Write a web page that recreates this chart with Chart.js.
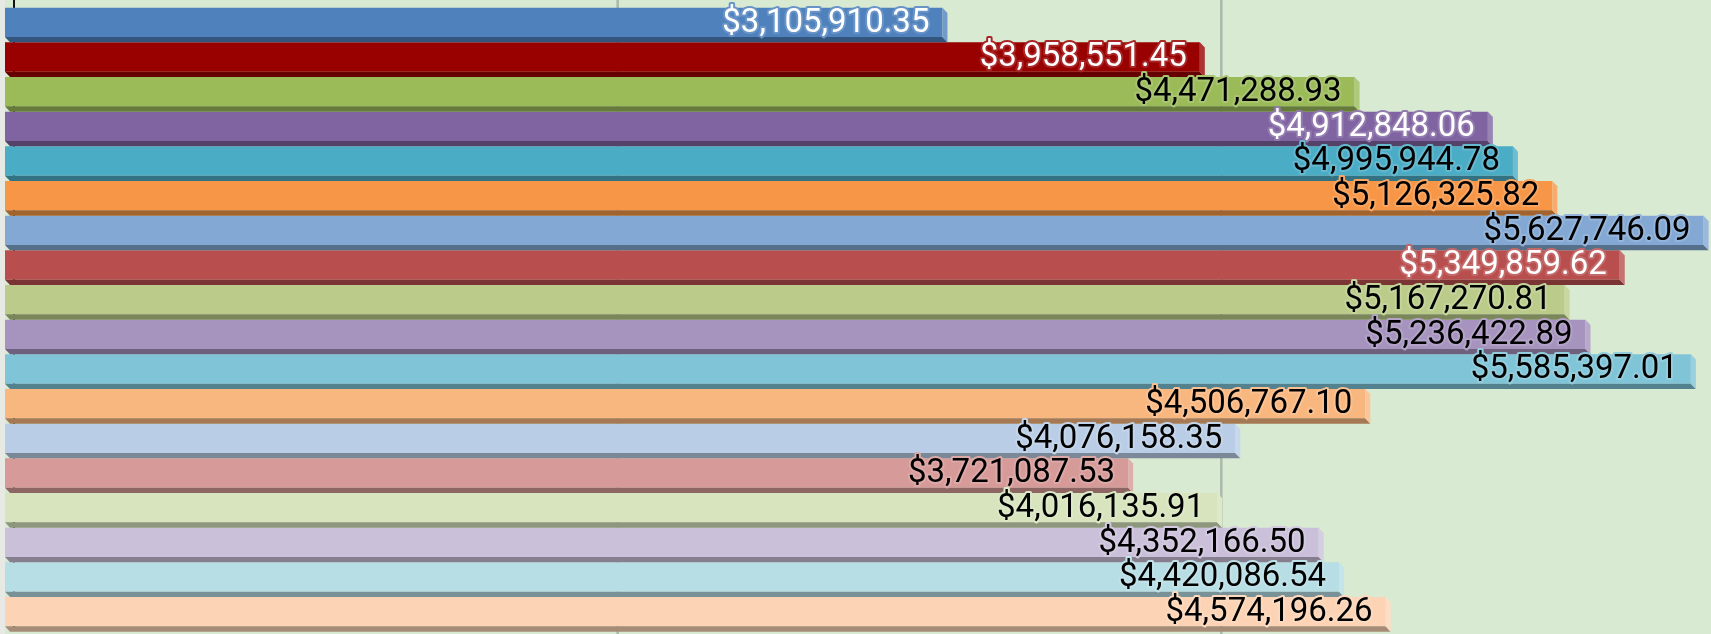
<!DOCTYPE html>
<html>
<head>
<meta charset="utf-8">
<script src="https://cdn.jsdelivr.net/npm/chart.js@4/dist/chart.umd.min.js"></script>
<style>
  html, body { margin: 0; padding: 0; overflow: hidden; background: #d9ead3; }
  #wrap { width: 1816px; height: 634px; }
</style>
</head>
<body>
<div id="wrap"><canvas id="revChart" width="1816" height="634"></canvas></div>
<script>
// --- Data ---
const categories = ['Row 1', 'Row 2', 'Row 3', 'Row 4', 'Row 5', 'Row 6', 'Row 7', 'Row 8', 'Row 9',
    'Row 10', 'Row 11', 'Row 12', 'Row 13', 'Row 14', 'Row 15', 'Row 16', 'Row 17', 'Row 18'];
const values = [3105910.35, 3958551.45, 4471288.93, 4912848.06, 4995944.78, 5126325.82,
    5627746.09, 5349859.62, 5167270.81, 5236422.89, 5585397.01, 4506767.10,
    4076158.35, 3721087.53, 4016135.91, 4352166.50, 4420086.54, 4574196.26];
const gridTicks = [2000000, 4000000];

// --- Styles ---
const barColors = ['#4f81bd', '#990000', '#9bbb59', '#8064a2', '#4bacc6', '#f79646',
    '#83a8d3', '#b84f4e', '#bbcc8a', '#a693be', '#80c4d7', '#f9b780',
    '#b9cee6', '#d69a98', '#d7e4bd', '#cbc0da', '#b7dde5', '#fcd4b5'];
const whiteText = [0, 1, 3, 7];
const DEPTH_X = 5;

function hexRgb(hex) {
    const n = parseInt(hex.slice(1), 16);
    return [(n >> 16) & 255, (n >> 8) & 255, n & 255];
}
function shade(hex, f) {
    const c = hexRgb(hex).map(v => Math.round(v * f));
    return `rgb(${c[0]},${c[1]},${c[2]})`;
}
function tint(hex, f) {
    const c = hexRgb(hex).map(v => Math.round(v + (255 - v) * f));
    return `rgb(${c[0]},${c[1]},${c[2]})`;
}
function money(v) {
    return '$' + v.toLocaleString('en-US', { minimumFractionDigits: 2, maximumFractionDigits: 2 });
}

// background, back-plane grid and 3D faces
const bar3d = {
    id: 'bar3d',
    beforeDraw(chart) {
        const { ctx, chartArea } = chart;
        ctx.save();
        ctx.fillStyle = '#d9ead3';
        ctx.fillRect(0, 0, chart.width, chart.height);
        ctx.fillStyle = '#e6e9e4';
        ctx.fillRect(0, 0, chartArea.left, chart.height);
        ctx.restore();
    },
    beforeDatasetsDraw(chart) {
        const { ctx, chartArea, scales } = chart;
        const back = 9;
        ctx.save();
        ctx.strokeStyle = '#adb8a9';
        ctx.lineWidth = 2.5;
        gridTicks.forEach(t => {
            const x = scales.x.getPixelForValue(t) + back;
            ctx.beginPath();
            ctx.moveTo(x, 0);
            ctx.lineTo(x, chart.height);
            ctx.stroke();
        });
        ctx.strokeStyle = '#111';
        ctx.lineWidth = 2;
        const ax = scales.x.getPixelForValue(0) + back;
        ctx.beginPath();
        ctx.moveTo(ax, 0);
        ctx.lineTo(ax, chartArea.bottom);
        ctx.stroke();
        ctx.restore();
    },
    afterDatasetsDraw(chart) {
        const { ctx, scales } = chart;
        const meta = chart.getDatasetMeta(0);
        const slot = scales.y.getPixelForValue(1) - scales.y.getPixelForValue(0);
        ctx.save();
        meta.data.forEach((bar, i) => {
            const p = bar.getProps(['x', 'y', 'base', 'height'], true);
            const top = p.y - p.height / 2, bottom = p.y + p.height / 2;
            const dy = slot - p.height;
            const col = barColors[i];
            // bottom face
            ctx.fillStyle = shade(col, 0.66);
            ctx.beginPath();
            ctx.moveTo(p.base, bottom);
            ctx.lineTo(p.x, bottom);
            ctx.lineTo(p.x + DEPTH_X, bottom + dy);
            ctx.lineTo(p.base + DEPTH_X, bottom + dy);
            ctx.closePath();
            ctx.fill();
            // right face
            ctx.fillStyle = tint(col, 0.2);
            ctx.beginPath();
            ctx.moveTo(p.x, top);
            ctx.lineTo(p.x + DEPTH_X, top + dy);
            ctx.lineTo(p.x + DEPTH_X, bottom + dy);
            ctx.lineTo(p.x, bottom);
            ctx.closePath();
            ctx.fill();
        });
        // value labels
        ctx.font = '33px Roboto';
        ctx.textAlign = 'right';
        ctx.textBaseline = 'middle';
        ctx.lineJoin = 'round';
        meta.data.forEach((bar, i) => {
            const p = bar.getProps(['x', 'y'], true);
            const txt = money(values[i]);
            const tx = p.x - 13, ty = p.y + 1;
            ctx.strokeStyle = tint(barColors[i], 0.15);
            ctx.lineWidth = 4;
            ctx.strokeText(txt, tx, ty);
            ctx.fillStyle = whiteText.includes(i) ? '#ffffff' : '#000000';
            ctx.fillText(txt, tx, ty);
        });
        ctx.restore();
    }
};

const ctx = document.getElementById('revChart').getContext('2d');
new Chart(ctx, {
    type: 'bar',
    data: {
        labels: categories,
        datasets: [{
            data: values,
            backgroundColor: barColors,
            borderWidth: 0,
            categoryPercentage: 1,
            barPercentage: 0.848
        }]
    },
    options: {
        indexAxis: 'y',
        responsive: false,
        animation: false,
        devicePixelRatio: 1,
        layout: { padding: { top: 5, bottom: 5, left: 5, right: 0 } },
        plugins: { legend: { display: false }, tooltip: { enabled: false } },
        scales: {
            x: { display: false, min: 0, max: 6000000 },
            y: { display: false }
        }
    },
    plugins: [bar3d]
});
</script>
</body>
</html>
